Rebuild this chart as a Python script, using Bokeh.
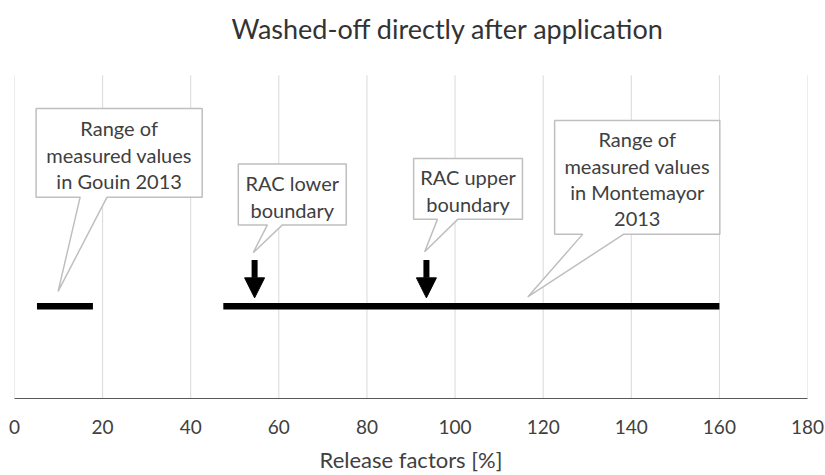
from bokeh.plotting import figure
from bokeh.models import ColumnDataSource, Arrow, NormalHead, FixedTicker, Range1d
from bokeh.core.properties import value
from bokeh.embed import file_html
from bokeh.resources import INLINE

# ---- data ----
range_names = ["Gouin 2013", "Montemayor 2013"]
range_low = [5.1, 47.4]
range_high = [17.8, 160.0]
range_level = [1.0, 1.0]

rac_names = ["RAC lower boundary", "RAC upper boundary"]
rac_values = [54.5, 93.5]

x_ticks = [0, 20, 40, 60, 80, 100, 120, 140, 160, 180]

# callout annotations (data units): box left, right, top, bottom, pointer base x1, x2, tip x, tip y
callout_texts = [
    ["Range of", "measured values", "in Gouin 2013"],
    ["RAC lower", "boundary"],
    ["RAC upper", "boundary"],
    ["Range of", "measured values", "in Montemayor", "2013"],
]
callout_left = [4.9, 50.8, 90.6, 122.6]
callout_right = [42.6, 75.3, 115.3, 160.1]
callout_top = [3.14, 2.54, 2.60, 3.01]
callout_bottom = [2.18, 1.88, 1.94, 1.78]
callout_base1 = [14.9, 57.4, 96.0, 129.0]
callout_base2 = [21.0, 60.8, 100.6, 138.3]
callout_tip_x = [9.9, 54.2, 93.1, 116.5]
callout_tip_y = [1.16, 1.58, 1.59, 1.10]
line_step = 0.288

TITLE = "Washed-off directly after application"
FONT = "Lato"
TXT = "#404040"

Y_TOP = 3.5          # top of the plotting area
Y_MAX = 4.31         # extra room above it for the chart title
TITLE_X, TITLE_Y = 98.4, 4.008

p = figure(width=825, height=475, output_backend="svg", toolbar_location=None,
           x_range=Range1d(0, 180), y_range=Range1d(0, Y_MAX),
           min_border_left=14, min_border_right=18, min_border_top=0, min_border_bottom=0)
p.outline_line_color = None
p.background_fill_color = "white"

p.yaxis.visible = False
p.ygrid.grid_line_color = None
p.xgrid.grid_line_color = None

# vertical gridlines limited to the plotting area
p.segment(x0=x_ticks, y0=[0] * len(x_ticks), x1=x_ticks, y1=[Y_TOP] * len(x_ticks),
          line_color="#d9d9d9", line_width=1)

# chart title
p.text(x=[TITLE_X], y=[TITLE_Y], text=[TITLE], text_align="center", text_baseline="middle",
       text_font=value(FONT), text_font_size="27px", text_color="#333333")

ax = p.xaxis[0]
ax.ticker = FixedTicker(ticks=x_ticks)
ax.axis_line_color = "#595959"
ax.axis_line_width = 1.2
ax.major_tick_line_color = None
ax.minor_tick_line_color = None
ax.major_label_text_font = FONT
ax.major_label_text_font_size = "19px"
ax.major_label_text_color = TXT
ax.major_label_standoff = 15
ax.axis_label = "Release factors [%]"
ax.axis_label_text_font = FONT
ax.axis_label_text_font_size = "22px"
ax.axis_label_text_font_style = "normal"
ax.axis_label_text_color = TXT
ax.axis_label_standoff = 9

# range lines
src = ColumnDataSource(dict(x0=range_low, x1=range_high, y=range_level))
p.segment(x0="x0", y0="y", x1="x1", y1="y", source=src, line_color="black",
          line_width=6.5, line_cap="butt")

# callouts
xs, ys = [], []
for i in range(len(callout_texts)):
    L, R, T, B = callout_left[i], callout_right[i], callout_top[i], callout_bottom[i]
    xs.append([L, R, R, callout_base2[i], callout_tip_x[i], callout_base1[i], L])
    ys.append([T, T, B, B, callout_tip_y[i], B, B])
p.patches(xs, ys, fill_color="white", line_color="#bfbfbf", line_width=1.5)

tx, ty, tt = [], [], []
for i, lines in enumerate(callout_texts):
    cx = (callout_left[i] + callout_right[i]) / 2
    cy = (callout_top[i] + callout_bottom[i]) / 2 - 0.02
    n = len(lines)
    for k, s in enumerate(lines):
        tx.append(cx)
        ty.append(cy + ((n - 1) / 2 - k) * line_step)
        tt.append(s)
p.text(x=tx, y=ty, text=tt, text_align="center", text_baseline="middle",
       text_font=value(FONT), text_font_size="20px", text_color=TXT)

# RAC arrows
for v in rac_values:
    p.add_layout(Arrow(end=NormalHead(size=20, fill_color="black", line_color="black"),
                       x_start=v, y_start=1.50, x_end=v, y_end=1.09,
                       line_color="black", line_width=6))

open("out.html", "w").write(file_html(p, INLINE))
